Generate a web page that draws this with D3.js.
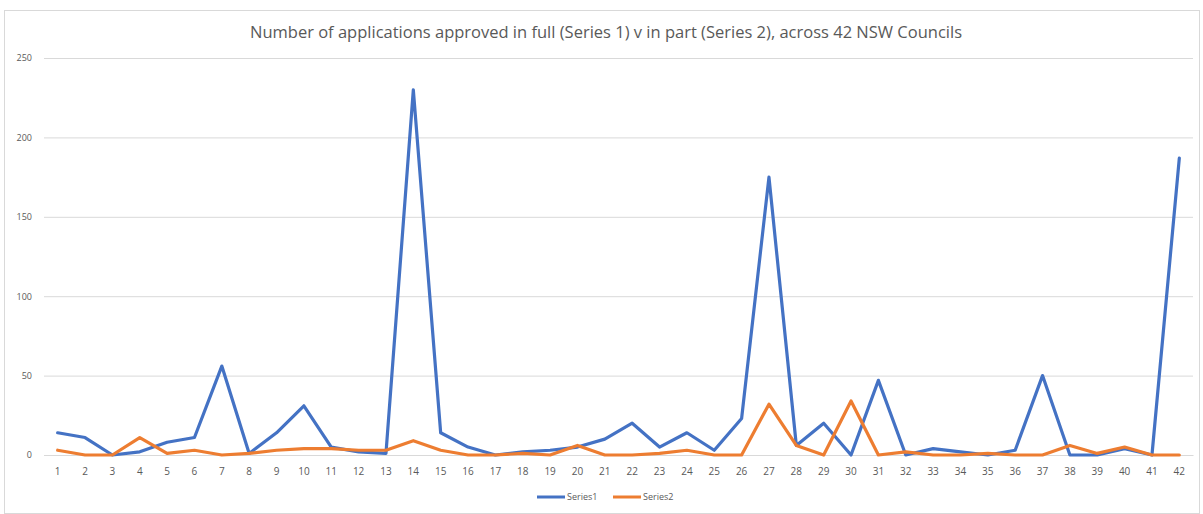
<!DOCTYPE html>
<html>
<head>
<meta charset="utf-8">
<script src="https://cdn.jsdelivr.net/npm/d3@7"></script>
<style>
  html, body { margin: 0; padding: 0; background: #fff; }
  svg { display: block; }
</style>
</head>
<body>
<svg id="chart" width="1203" height="514"></svg>
<script>
// Councils numbered 1..42
const councils = d3.range(1, 43).map(String);

// Applications approved in full
const series1 = [14, 11, 0, 2, 8, 11, 56, 1, 14, 31, 5, 2, 1, 230, 14, 5, 0, 2, 3, 5,
                 10, 20, 5, 14, 3, 23, 175, 6, 20, 0, 47, 0, 4, 2, 0, 3, 50, 0, 0, 4, 0, 187];

// Applications approved in part
const series2 = [3, 0, 0, 11, 1, 3, 0, 1, 3, 4, 4, 3, 3, 9, 3, 0, 0, 1, 0, 6,
                 0, 0, 1, 3, 0, 0, 32, 6, 0, 34, 0, 2, 0, 0, 1, 0, 0, 6, 1, 5, 0, 0];

const yTicks = [0, 50, 100, 150, 200, 250];
const seriesNames = ["Series1", "Series2"];
const seriesColors = ["#4472C4", "#ED7D31"];
const title = "Number of applications approved in full (Series 1) v in part (Series 2), across 42 NSW Councils";

const svg = d3.select("#chart");
const font = "'Open Sans', 'Liberation Sans', sans-serif";

// chart frame
svg.append("rect")
  .attr("x", 4.5).attr("y", 10.5)
  .attr("width", 1195).attr("height", 503)
  .attr("fill", "#fff").attr("stroke", "#d9d9d9").attr("stroke-width", 1);

const plot = { left: 44, right: 1193, top: 58, bottom: 455 };

const x = d3.scaleBand().domain(councils).range([plot.left, plot.right]);
const y = d3.scaleLinear().domain([0, 250]).range([plot.bottom, plot.top]);

// title
svg.append("text")
  .attr("x", 606).attr("y", 38)
  .attr("text-anchor", "middle")
  .attr("font-family", font).attr("font-size", 16.5)
  .attr("fill", "#595959")
  .text(title);

// gridlines + y labels
const yAxis = d3.axisLeft(y).tickValues(yTicks).tickSize(-(plot.right - plot.left)).tickPadding(12);
const gy = svg.append("g").attr("transform", `translate(${plot.left},0)`).call(yAxis);
gy.select(".domain").remove();
gy.selectAll(".tick line").attr("stroke", "#d9d9d9").attr("stroke-width", 1);
gy.selectAll(".tick text")
  .attr("font-family", font).attr("font-size", 9).attr("fill", "#595959");

// category axis
const xAxis = d3.axisBottom(x).tickSize(0).tickPadding(13);
const gx = svg.append("g").attr("transform", `translate(0,${plot.bottom})`).call(xAxis);
gx.select(".domain").attr("stroke", "#d9d9d9");
gx.selectAll(".tick text")
  .attr("font-family", font).attr("font-size", 10).attr("fill", "#595959");

// lines
const line = d3.line()
  .x((d, i) => x(councils[i]) + x.bandwidth() / 2)
  .y(d => y(d));

[series1, series2].forEach((s, k) => {
  svg.append("path")
    .datum(s)
    .attr("fill", "none")
    .attr("stroke", seriesColors[k])
    .attr("stroke-width", 3.2)
    .attr("stroke-linejoin", "round")
    .attr("stroke-linecap", "round")
    .attr("d", line);
});

// legend
const legend = svg.append("g").attr("transform", "translate(537,497)");
const legendX = [0, 76];
seriesNames.forEach((name, k) => {
  const g = legend.append("g").attr("transform", `translate(${legendX[k]},0)`);
  g.append("line")
    .attr("x1", 0).attr("x2", 28).attr("y1", 0).attr("y2", 0)
    .attr("stroke", seriesColors[k]).attr("stroke-width", 3);
  g.append("text")
    .attr("x", 30).attr("y", 3)
    .attr("font-family", font).attr("font-size", 9).attr("fill", "#595959")
    .text(name);
});
</script>
</body>
</html>
